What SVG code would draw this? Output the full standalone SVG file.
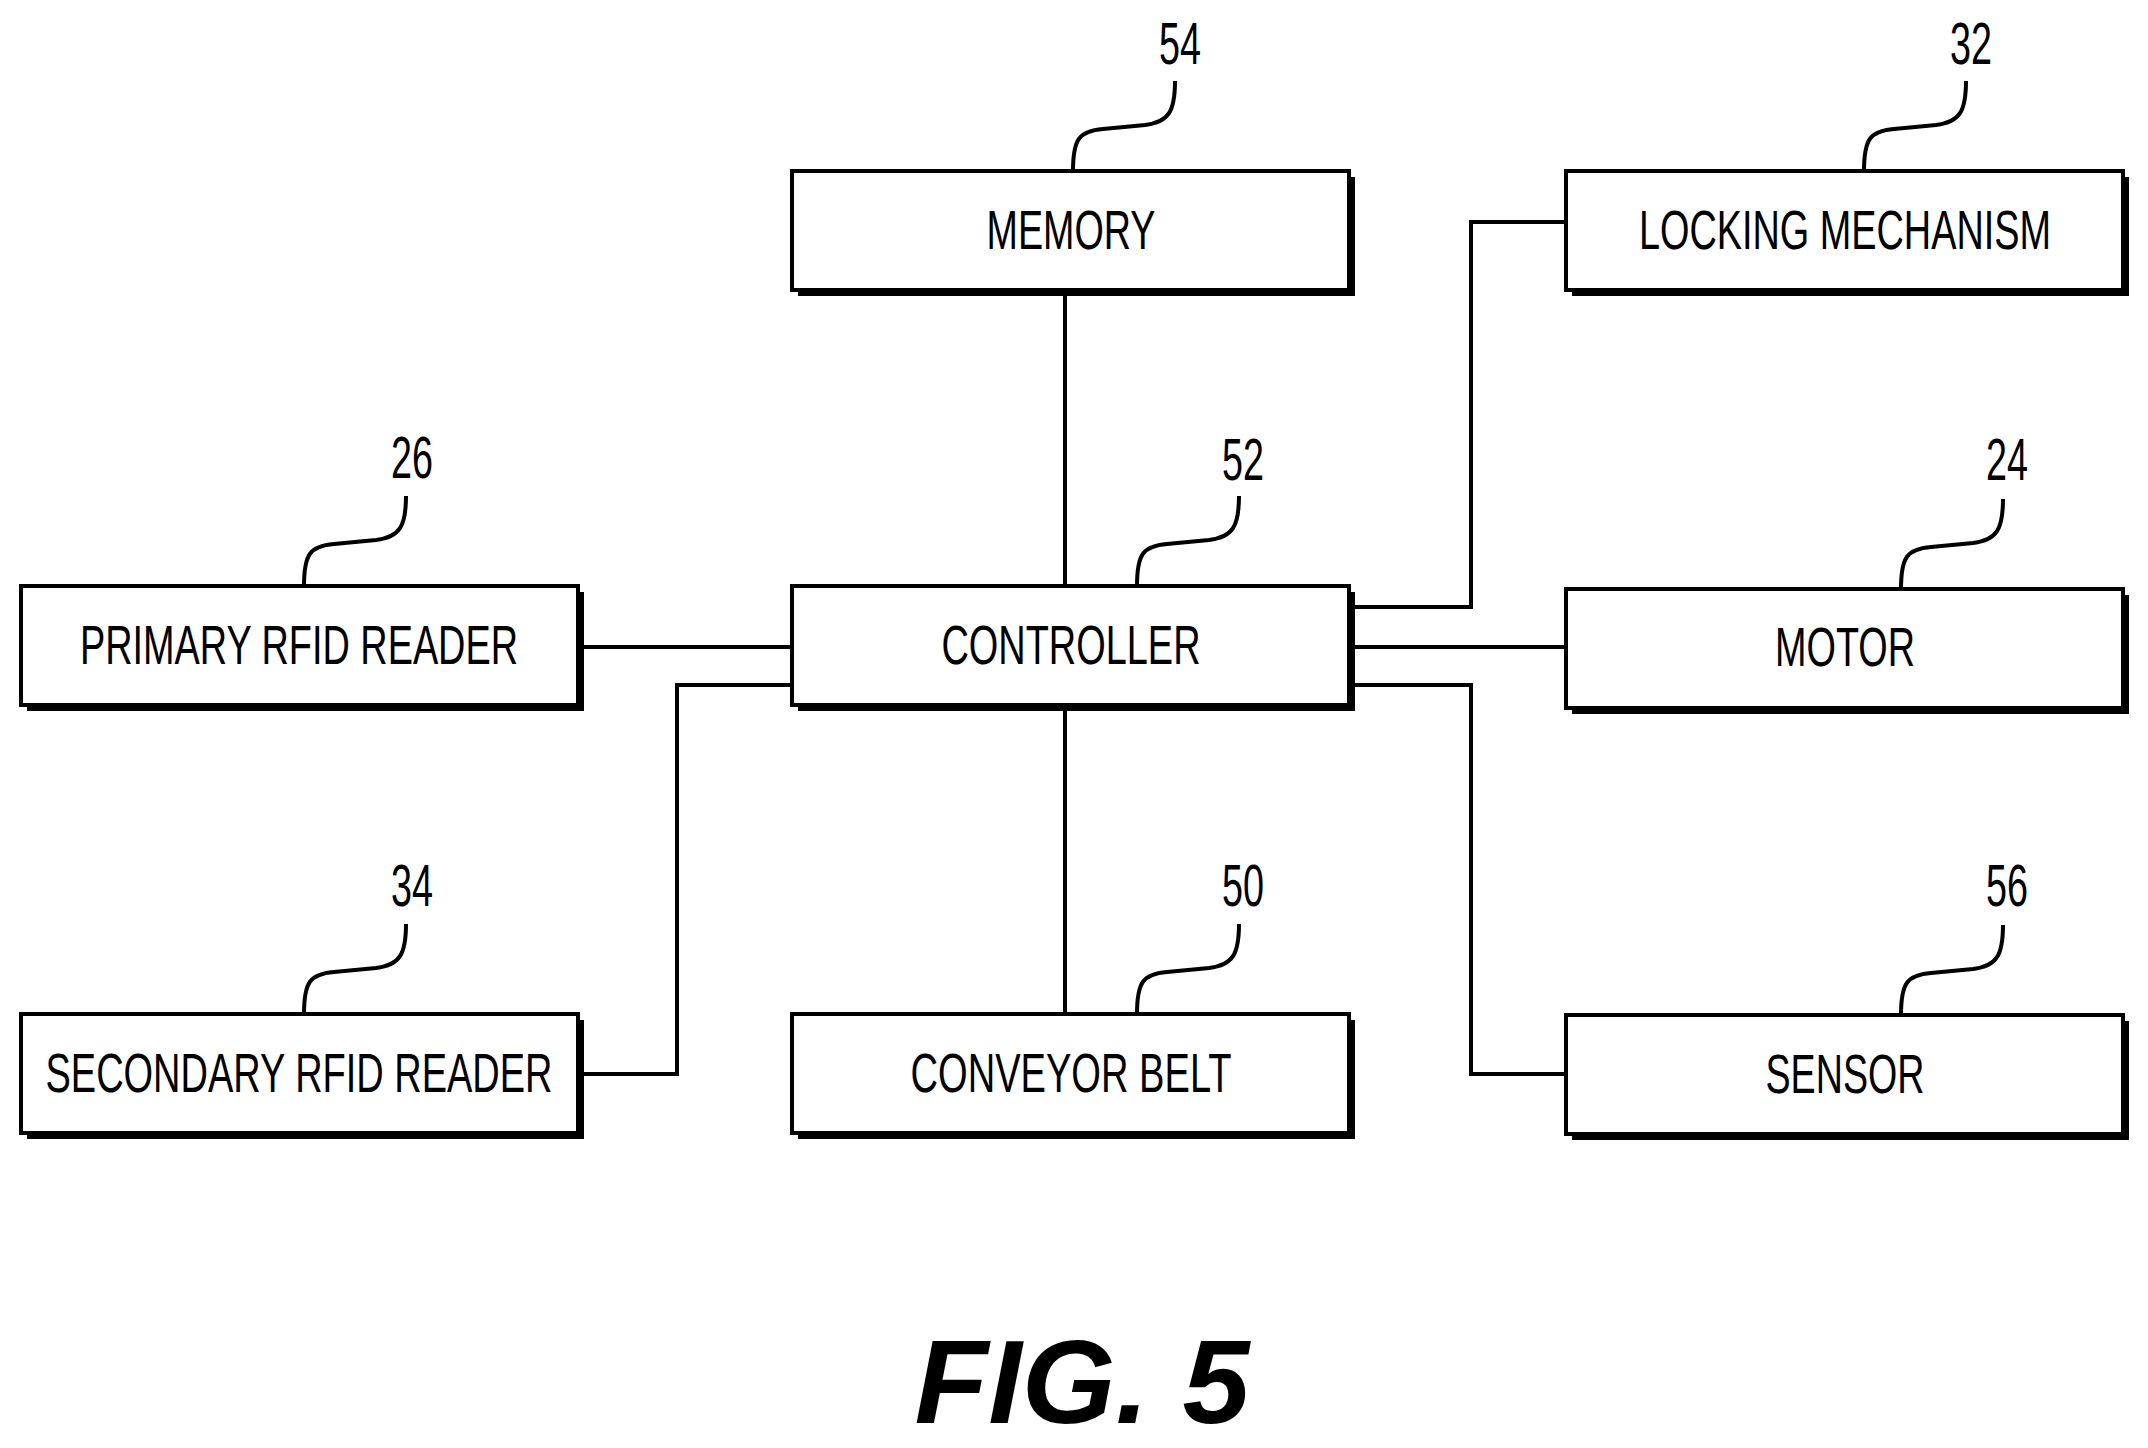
<svg xmlns="http://www.w3.org/2000/svg" width="2148" height="1448" viewBox="0 0 2148 1448">
<style>
.box{fill:#fff;stroke:#000;stroke-width:4}
.sh{fill:#000}
.lbl{font-family:"Liberation Sans",Arial,sans-serif;font-size:56px;text-anchor:middle}
.num{font-family:"Liberation Sans",Arial,sans-serif;font-size:60px;text-anchor:middle}
.ln{fill:none;stroke:#000;stroke-width:4}
</style>
<defs>
<path id="sq" d="M0,0 C0,-32 6,-40 30,-42 L72,-46 C96,-49 102,-60 102,-90" fill="none" stroke="#000" stroke-width="4"/>
<g id="bx"><rect class="sh" x="6" y="6" width="557" height="119"/><rect class="box" x="0" y="0" width="557" height="119"/></g>
</defs>
<rect width="2148" height="1448" fill="#fff"/>
<g id="connectors" class="ln">
<path class="ln" d="M1065,290V586M1065,706V1014M578,647H792M792,685H677V1074H578M1350,607H1471V222H1566M1350,647H1566M1350,685H1471V1074H1566"/>
</g>
<g id="memory"><use href="#bx" x="792" y="171"/><text class="lbl" x="1071" y="249" textLength="169" lengthAdjust="spacingAndGlyphs">MEMORY</text><use href="#sq" x="1073" y="171"/><text class="num" x="1180" y="64" textLength="42" lengthAdjust="spacingAndGlyphs">54</text></g>
<g id="locking"><use href="#bx" x="1566" y="171"/><text class="lbl" x="1845" y="249" textLength="412" lengthAdjust="spacingAndGlyphs">LOCKING MECHANISM</text><use href="#sq" x="1864" y="171"/><text class="num" x="1971" y="64" textLength="42" lengthAdjust="spacingAndGlyphs">32</text></g>
<g id="primary"><use href="#bx" x="21" y="586"/><text class="lbl" x="299" y="664" textLength="438" lengthAdjust="spacingAndGlyphs">PRIMARY RFID READER</text><use href="#sq" x="304" y="586"/><text class="num" x="412" y="478" textLength="42" lengthAdjust="spacingAndGlyphs">26</text></g>
<g id="controller"><use href="#bx" x="792" y="586"/><text class="lbl" x="1071" y="664" textLength="259" lengthAdjust="spacingAndGlyphs">CONTROLLER</text><use href="#sq" x="1137" y="586"/><text class="num" x="1243" y="480" textLength="42" lengthAdjust="spacingAndGlyphs">52</text></g>
<g id="motor"><use href="#bx" x="1566" y="589"/><text class="lbl" x="1845" y="666" textLength="140" lengthAdjust="spacingAndGlyphs">MOTOR</text><use href="#sq" x="1901" y="589"/><text class="num" x="2007" y="480" textLength="42" lengthAdjust="spacingAndGlyphs">24</text></g>
<g id="secondary"><use href="#bx" x="21" y="1014"/><text class="lbl" x="299" y="1092" textLength="507" lengthAdjust="spacingAndGlyphs">SECONDARY RFID READER</text><use href="#sq" x="304" y="1014"/><text class="num" x="412" y="906" textLength="42" lengthAdjust="spacingAndGlyphs">34</text></g>
<g id="conveyor"><use href="#bx" x="792" y="1014"/><text class="lbl" x="1071" y="1092" textLength="321" lengthAdjust="spacingAndGlyphs">CONVEYOR BELT</text><use href="#sq" x="1137" y="1014"/><text class="num" x="1243" y="906" textLength="42" lengthAdjust="spacingAndGlyphs">50</text></g>
<g id="sensor"><use href="#bx" x="1566" y="1015"/><text class="lbl" x="1845" y="1093" textLength="159" lengthAdjust="spacingAndGlyphs">SENSOR</text><use href="#sq" x="1901" y="1015"/><text class="num" x="2007" y="906" textLength="42" lengthAdjust="spacingAndGlyphs">56</text></g>
<text x="1082" y="1423" font-family="Liberation Sans,Arial,sans-serif" font-size="118" font-weight="bold" font-style="italic" text-anchor="middle" textLength="335" lengthAdjust="spacingAndGlyphs">FIG. 5</text>
</svg>
